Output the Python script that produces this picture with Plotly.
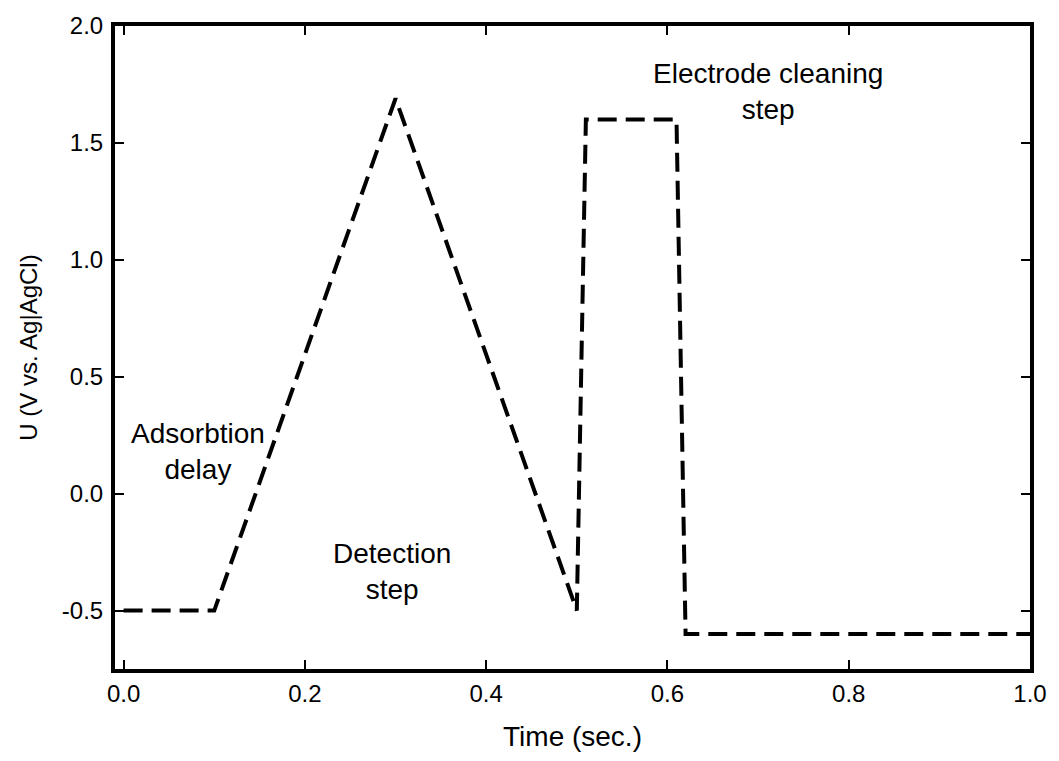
import plotly.graph_objects as go

# Potential waveform (time in s, potential in V vs Ag|AgCl)
time_s = [0.0, 0.1, 0.3, 0.5, 0.51, 0.61, 0.62, 1.0]
potential_v = [-0.5, -0.5, 1.69, -0.5, 1.6, 1.6, -0.6, -0.6]

x_tickvals = [0.0, 0.2, 0.4, 0.6, 0.8, 1.0]
x_ticktext = ["0.0", "0.2", "0.4", "0.6", "0.8", "1.0"]
y_tickvals = [-0.5, 0.0, 0.5, 1.0, 1.5, 2.0]
y_ticktext = ["-0.5", "0.0", "0.5", "1.0", "1.5", "2.0"]

labels = ["Adsorbtion<br>delay", "Detection<br>step", "Electrode cleaning<br>step"]
label_x = [0.082, 0.296, 0.711]
label_y = [0.18, -0.334, 1.72]

FONT = "Liberation Sans, Arial, Helvetica, sans-serif"

fig = go.Figure()
fig.add_trace(go.Scatter(
    x=time_s, y=potential_v, mode="lines",
    line=dict(color="black", width=4, dash="19px,9px"),
    showlegend=False, hoverinfo="skip",
))

for t, ax_, ay_ in zip(labels, label_x, label_y):
    fig.add_annotation(x=ax_, y=ay_, text=t, showarrow=False,
                       font=dict(family=FONT, size=28, color="black"),
                       xanchor="center", yanchor="middle")

axis_common = dict(
    showline=True, linecolor="black", linewidth=4, mirror="allticks",
    ticks="inside", ticklen=9, tickwidth=1.5, tickcolor="black",
    showgrid=False, zeroline=False,
    tickfont=dict(family=FONT, size=24, color="black"),
)

fig.update_xaxes(range=[-0.0095, 1.0], tickmode="array",
                 tickvals=x_tickvals, ticktext=x_ticktext,
                 title=dict(text="Time (sec.)", font=dict(family=FONT, size=28, color="black"), standoff=22),
                 **axis_common)
fig.update_yaxes(range=[-0.75, 2.0], tickmode="array",
                 tickvals=y_tickvals, ticktext=y_ticktext,
                 ticklabelstandoff=3,
                 title=dict(text="U (V vs. Ag|AgCl)", font=dict(family=FONT, size=24, color="black"), standoff=18),
                 **axis_common)

fig.update_layout(
    width=1059, height=761,
    margin=dict(l=115, r=19, t=22, b=92),
    paper_bgcolor="white", plot_bgcolor="white",
    font=dict(family=FONT, color="black"),
)

fig.write_html("out.html")
